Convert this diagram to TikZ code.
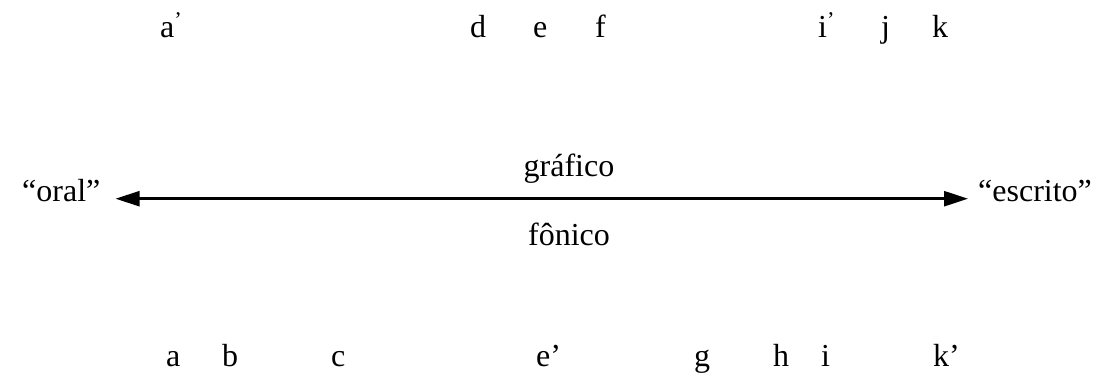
\documentclass[tikz,border=0pt]{standalone}
\usepackage{fontspec}
\setmainfont{Liberation Serif}
\usetikzlibrary{arrows.meta}

\begin{document}
\begin{tikzpicture}[x=1pt, y=-1pt, lbl/.style={inner sep=0pt, anchor=base west, font=\fontsize{32}{38}\selectfont}, rel/.style={{Triangle[length=24pt,width=15pt]}-{Triangle[length=24pt,width=15pt]}, line width=2.5pt, shorten <=15pt, shorten >=10pt}]
\useasboundingbox (0,0) rectangle (1113,380);
% upper row
\node[lbl] (ta) at (160,37) {a\textsuperscript{’}};
\node[lbl] (td) at (470,37) {d};
\node[lbl] (te) at (533,37) {e};
\node[lbl] (tf) at (595,37) {f};
\node[lbl] (ti) at (818,37) {i\textsuperscript{’}};
\node[lbl] (tj) at (881,37) {j};
\node[lbl] (tk) at (932,37) {k};
% continuum
\node[lbl] (oral) at (22,201) {“oral”};
\node[lbl] (escrito) at (978,201) {“escrito”};
\node[lbl, anchor=base] (grafico) at (569,176) {gráfico};
\node[lbl, anchor=base] (fonico) at (569,245) {fônico};
\draw[rel] (oral.mid east) -- (escrito.mid west);
% lower row
\node[lbl] (ba) at (166,366) {a};
\node[lbl] (bb) at (222,366) {b};
\node[lbl] (bc) at (331,366) {c};
\node[lbl] (be) at (536,366) {e’};
\node[lbl] (bg) at (694,366) {g};
\node[lbl] (bh) at (773,366) {h};
\node[lbl] (bi) at (821,366) {i};
\node[lbl] (bk) at (933,366) {k’};
\end{tikzpicture}
\end{document}
